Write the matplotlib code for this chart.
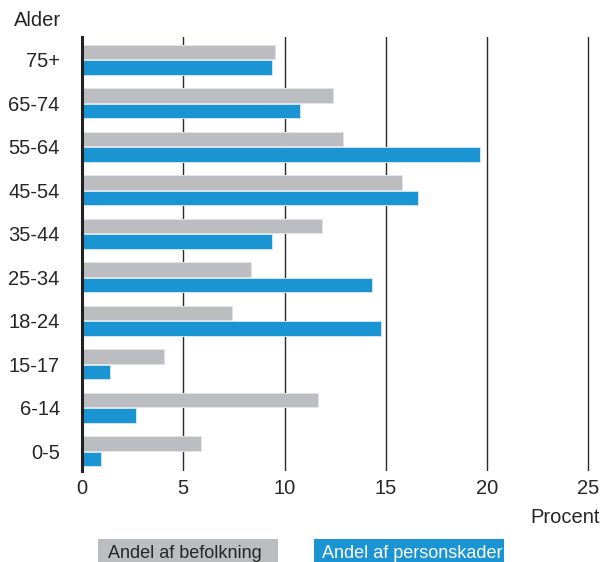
import matplotlib
matplotlib.use("Agg")
import matplotlib.pyplot as plt
from matplotlib.patches import Rectangle
import numpy as np

plt.rcParams['font.family'] = ['Liberation Sans', 'DejaVu Sans']

categories = ["75+", "65-74", "55-64", "45-54", "35-44", "25-34", "18-24", "15-17", "6-14", "0-5"]
befolkning = [9.53, 12.38, 12.87, 15.80, 11.86, 8.36, 7.42, 4.05, 11.64, 5.88]
personskader = [9.38, 10.76, 19.66, 16.60, 9.38, 14.34, 14.78, 1.36, 2.67, 0.92]
xticks = [0, 5, 10, 15, 20, 25]
legend_labels = ["Andel af befolkning", "Andel af personskader"]

GRAY = "#BCBDC0"
BLUE = "#1A94D3"
TXT = "#262626"

W, H = 611, 562
fig = plt.figure(figsize=(W / 100, H / 100), dpi=100)
ax = fig.add_axes([82 / W, 1 - 470.7 / H, (592.3 - 82) / W, (470.7 - 36.7) / H])

y = np.arange(len(categories))
h = 0.335
off = 0.178
ax.barh(y - off, befolkning, height=h, color=GRAY, edgecolor="#E4E4E6", linewidth=0.7, zorder=3)
ax.barh(y + off, personskader, height=h, color=BLUE, edgecolor="#CDE6F4", linewidth=0.7, zorder=3)

ax.set_xlim(0, 25.2)
ax.set_ylim(len(categories) - 1 + 0.45, -0.53)

for xv in xticks[1:]:
    ax.axvline(xv, color="#2a2a2a", linewidth=1.0, zorder=1)

for s in ["top", "right", "bottom"]:
    ax.spines[s].set_visible(False)
ax.spines["left"].set_linewidth(2.2)
ax.spines["left"].set_color("#222222")
ax.spines["left"].set_zorder(4)

ax.set_xticks(xticks)
ax.set_xticklabels([str(v) for v in xticks], fontsize=14.5, color=TXT)
ax.set_yticks(y)
ax.set_yticklabels(categories, fontsize=14.5, color=TXT)
ax.tick_params(axis="x", length=0, pad=6)
ax.tick_params(axis="y", length=0, pad=16)

fig.text(61 / W, 1 - 25.7 / H, "Alder", ha="right", va="baseline", fontsize=14.5, color=TXT)
fig.text(599.5 / W, 1 - 523 / H, "Procent", ha="right", va="baseline", fontsize=14.5, color=TXT)

# legend boxes
fig.patches.append(Rectangle((98.3 / W, -0.02), (277.7 - 98.3) / W, 0.02 + 1 - 539 / H,
                             transform=fig.transFigure, facecolor=GRAY, edgecolor="none"))
fig.patches.append(Rectangle((314 / W, -0.02), (504 - 314) / W, 0.02 + 1 - 539 / H,
                             transform=fig.transFigure, facecolor=BLUE, edgecolor="none"))
fig.text(108.3 / W, 1 - 558.3 / H, legend_labels[0], ha="left", va="baseline", fontsize=13, color=TXT)
fig.text(321.7 / W, 1 - 558.3 / H, legend_labels[1], ha="left", va="baseline", fontsize=13, color="white")

fig.savefig("out.png", dpi=100)
